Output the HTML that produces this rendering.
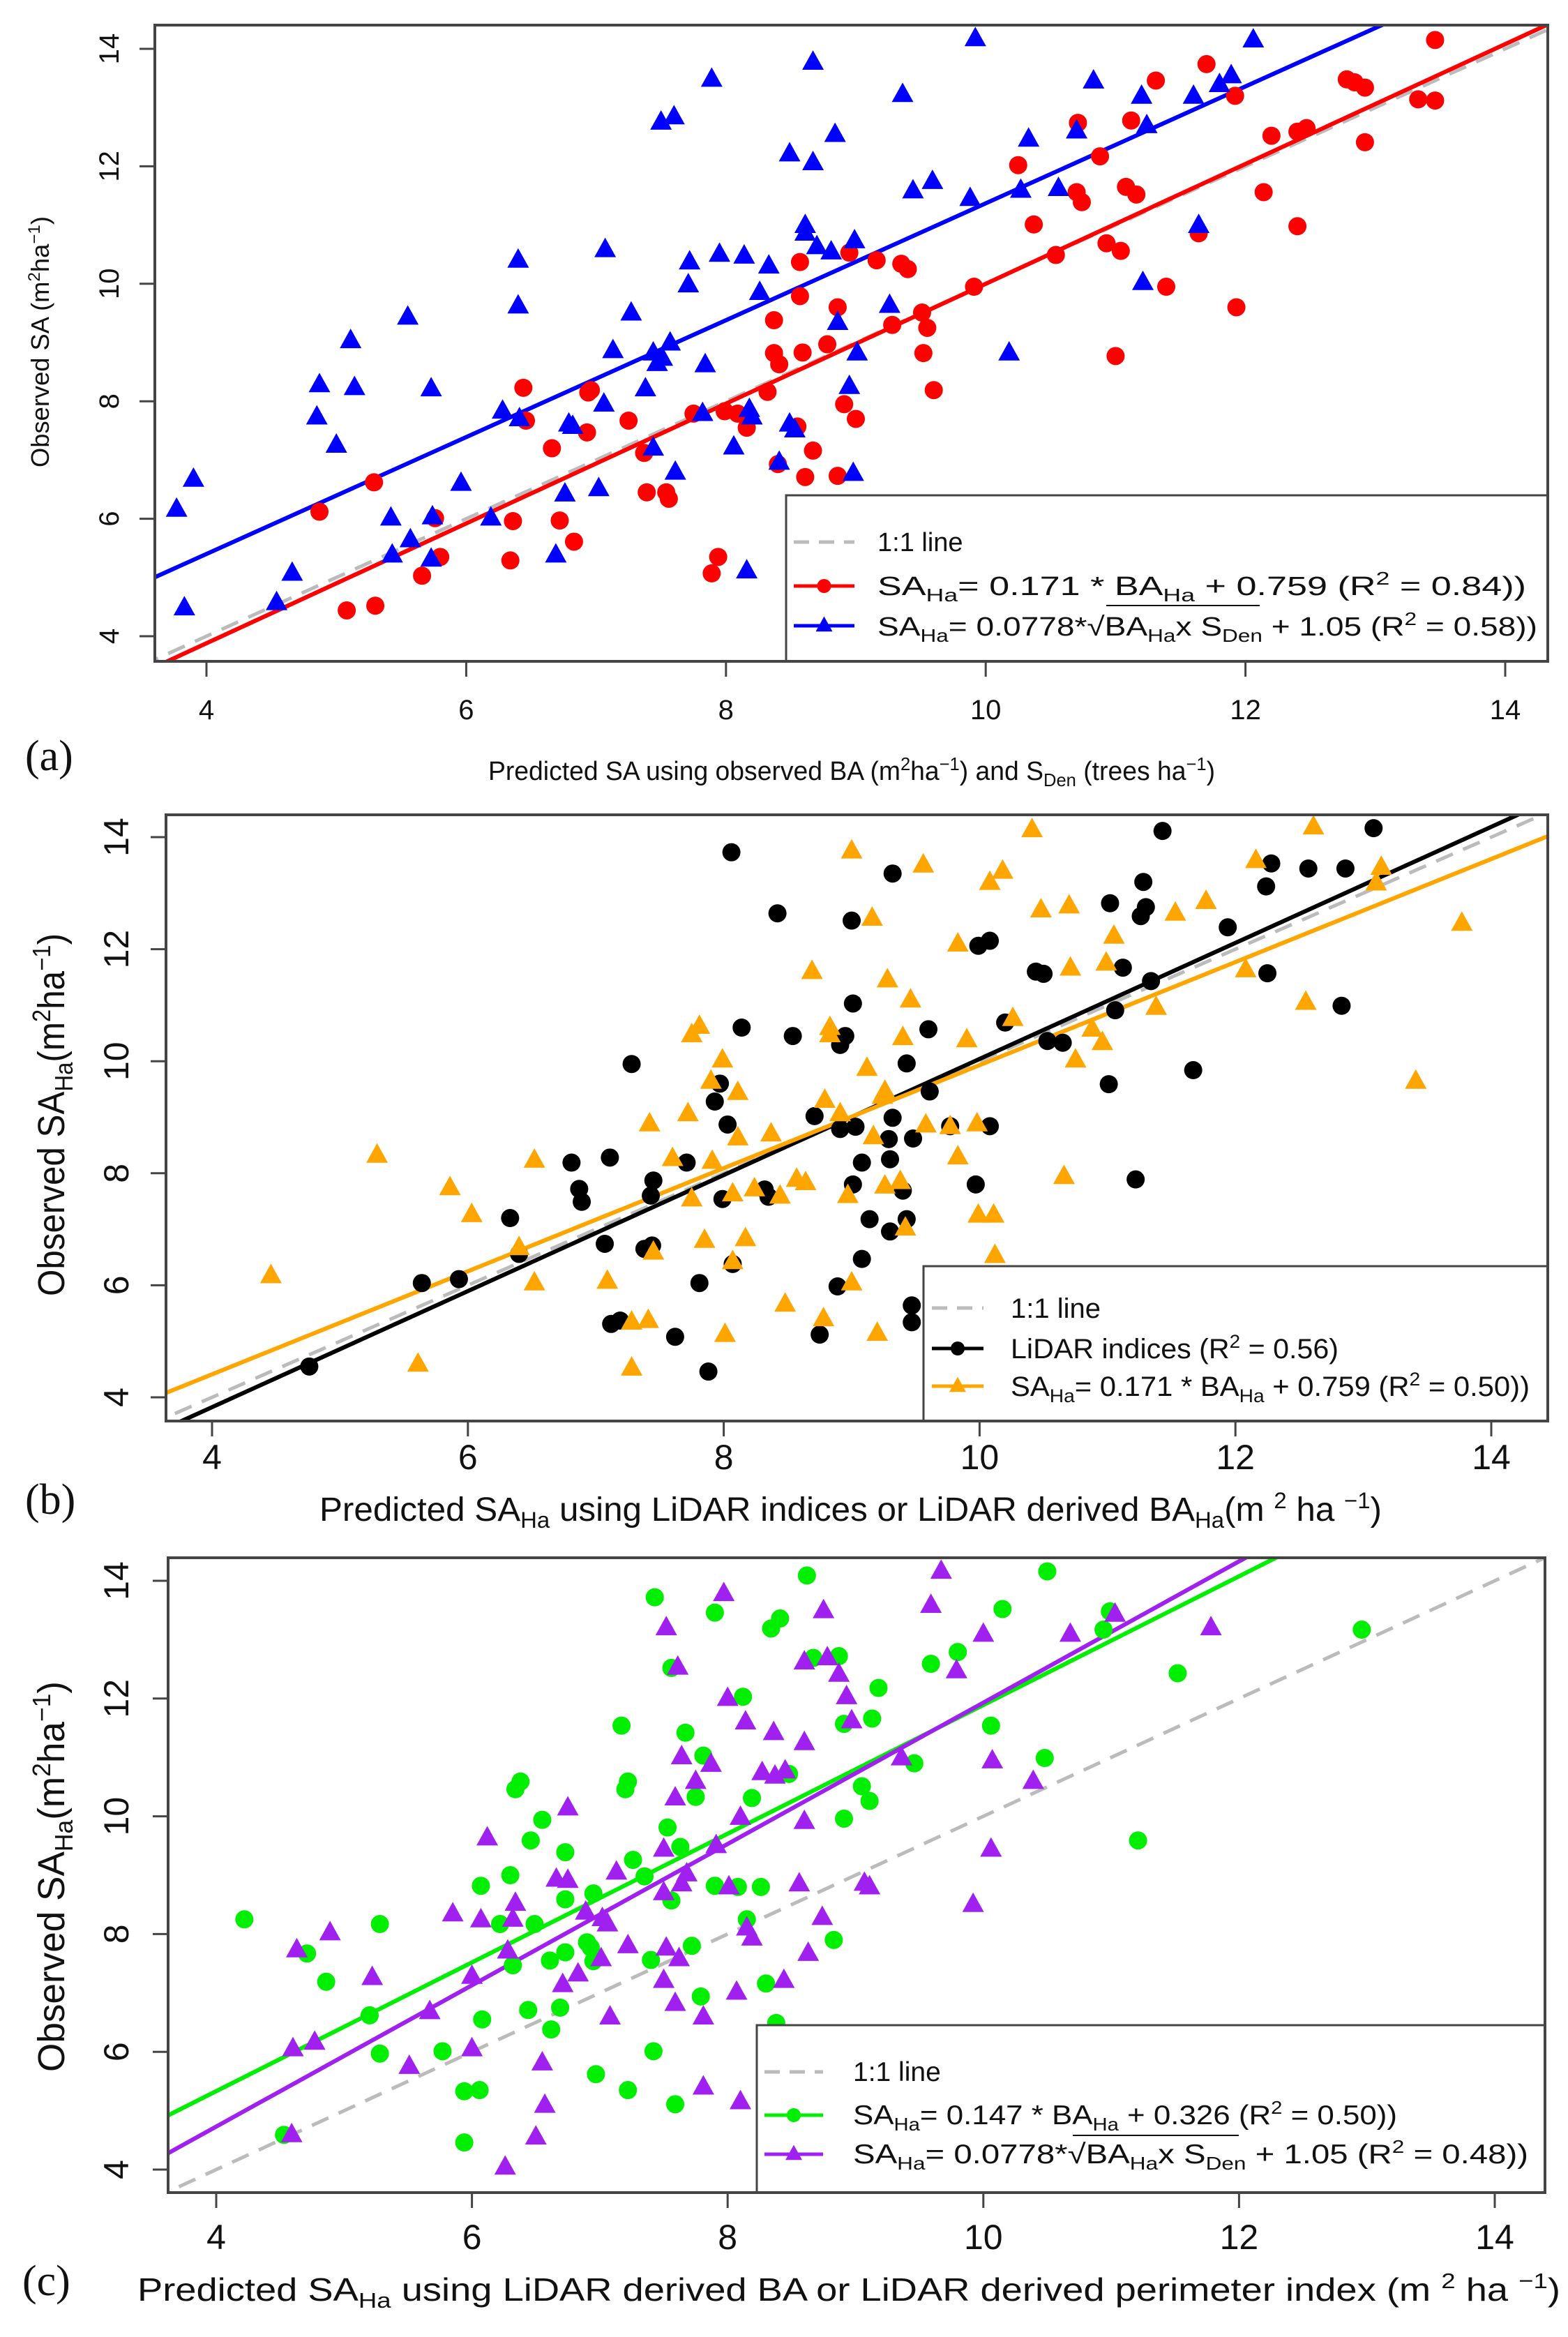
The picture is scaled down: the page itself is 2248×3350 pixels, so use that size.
<!DOCTYPE html>
<html><head><meta charset="utf-8">
<style>
html,body{margin:0;padding:0;background:#fff;}
svg{display:block;}
text{font-family:"Liberation Sans",Arial,sans-serif;fill:#111;}
.serif{font-family:"Liberation Serif","Times New Roman",serif;}
</style></head>
<body>
<svg id="fig" xmlns="http://www.w3.org/2000/svg" width="2248" height="3350" viewBox="0 0 2248 3350">
<defs>
<clipPath id="clipA"><rect x="222" y="36" width="1997" height="912"/></clipPath>
<clipPath id="clipB"><rect x="238" y="1168" width="1981" height="869"/></clipPath>
<clipPath id="clipC"><rect x="241" y="2233" width="1974" height="910"/></clipPath>
</defs>
</svg>
<script>
// ---------- DATA ----------
const ticks = [4, 6, 8, 10, 12, 14];
const tickLabels = ["4", "6", "8", "10", "12", "14"];

// Panel (a)
const aRedX = [13.46,11.70,11.31,12.84,12.78,12.92,11.92,13.33,13.46,10.71,11.12,12.2,12.4,12.47,12.92,10.25,10.88,10.7,10.74,11.08,11.16,12.14,10.37,12.4,10.93,11.04,10.54,11.39,11.64,11.93,9.91,11.0,8.57,8.95,9.16,9.35,9.4,8.57,8.86,8.37,9.51,9.55,9.28,8.37,8.41,8.59,8.78,9.52,9.6,8.32,6.44,6.46,6.94,6.96,7.25,6.93,6.66,7.37,7.75,7.99,8.09,8.16,8.55,8.91,9.0,8.67,7.39,7.54,7.56,8.61,8.86,8.4,5.29,4.87,6.36,6.72,6.83,5.76,5.8,5.66,6.34,5.08,5.3,7.89,7.94];
const aRedY = [14.15,13.74,13.46,13.43,13.48,13.34,13.2,13.14,13.12,12.74,12.78,12.52,12.59,12.65,12.41,12.02,12.17,11.56,11.39,11.65,11.52,11.56,11.01,10.98,10.69,10.56,10.49,9.95,10.86,9.6,9.95,8.77,10.37,10.53,10.4,10.34,10.25,9.79,9.6,9.38,9.51,9.25,9.3,8.82,8.63,8.83,8.97,8.82,8.19,8.16,8.23,7.67,8.15,8.19,7.67,7.47,7.2,7.12,7.79,7.83,7.79,7.55,7.57,7.95,7.7,7.16,6.45,6.45,6.34,6.71,6.73,6.93,6.62,6.12,5.96,5.97,5.61,6.01,5.35,5.03,5.29,4.44,4.52,5.07,5.35];
const aBlueX = [9.92,12.06,8.67,7.89,10.83,9.36,11.2,11.6,11.8,11.89,10.7,11.24,7.5,7.6,10.33,8.84,8.49,8.67,9.44,9.59,10.27,10.56,9.88,8.61,8.61,11.64,11.21,7.07,6.4,6.4,7.95,8.14,7.72,7.71,8.33,8.7,8.81,8.99,8.26,9.26,7.27,8.86,9.01,5.55,5.11,5.14,4.87,4.85,5.0,5.73,7.13,7.44,7.47,7.51,7.57,7.38,7.84,8.95,8.18,8.2,7.82,7.06,6.79,6.82,6.28,6.41,7.44,8.06,8.49,8.53,8.41,8.98,7.61,6.76,7.02,5.96,5.42,5.74,6.19,5.57,5.43,5.73,6.69,3.77,3.9,3.83,4.66,4.54,8.16,10.18];
const aBlueY = [14.17,14.15,13.77,13.48,13.45,13.22,13.19,13.19,13.39,13.54,12.6,12.69,12.75,12.84,12.46,12.54,12.21,12.06,11.58,11.74,11.59,11.62,11.45,10.99,10.86,10.99,10.02,10.58,10.4,9.62,10.5,10.47,10.37,9.98,10.3,10.63,10.54,10.73,9.85,9.63,9.5,9.34,8.82,9.43,9.03,8.23,8.28,7.73,7.25,8.21,8.86,8.82,8.64,8.73,8.99,8.21,8.62,8.25,7.86,7.73,7.79,7.95,7.61,7.57,7.83,7.7,7.2,7.22,7.61,7.51,6.96,6.77,6.79,6.42,6.51,6.6,6.01,6.03,6.01,5.64,5.38,5.31,5.38,6.16,6.67,4.48,5.07,4.57,5.11,8.82];
const aFitRed = [1.02, -0.2];   // slope, intercept (plot space)
const aFitBlue = [0.995, 1.42];

// Panel (b)
const bBlackX = [13.08,11.43,8.06,9.32,12.28,12.57,12.86,11.28,12.24,11.02,11.3,11.26,8.42,9.0,11.94,10.08,9.99,10.44,10.5,12.25,11.12,11.34,12.83,9.01,11.06,10.2,8.14,9.6,8.54,8.95,8.91,10.53,10.65,7.28,9.43,11.67,11.01,7.97,7.93,9.61,8.03,8.71,8.91,9.03,9.32,9.29,9.48,10.08,9.77,9.08,9.3,9.01,9.4,9.97,11.22,6.81,7.11,6.87,6.89,7.45,7.43,7.71,7.99,8.32,8.35,6.33,6.4,7.07,7.38,7.44,9.14,9.43,9.3,9.08,8.07,7.81,8.89,7.12,7.19,7.62,8.75,9.47,9.47,7.88,5.64,5.93,4.76];
const bBlackY = [14.16,14.11,13.73,13.35,13.53,13.44,13.44,13.2,13.12,12.82,12.75,12.59,12.64,12.51,12.39,12.15,12.06,11.6,11.56,11.57,11.67,11.43,10.99,11.03,10.91,10.69,10.6,10.57,10.45,10.45,10.29,10.36,10.33,9.95,9.96,9.84,9.59,9.6,9.28,9.46,8.87,9.02,8.79,8.83,8.99,8.61,8.62,8.84,8.84,8.19,8.25,7.8,7.69,7.8,7.89,8.19,8.28,7.72,7.49,7.87,7.6,8.19,7.54,7.71,7.58,7.2,6.56,6.74,6.65,6.71,7.18,7.18,6.96,6.47,6.38,6.04,5.98,5.31,5.37,5.08,5.12,5.64,5.34,4.46,6.04,6.11,4.55];
const bOrangeX = [10.41,12.61,9.0,9.56,10.18,10.08,12.16,13.14,13.1,10.48,10.7,11.53,11.77,13.77,9.16,9.83,11.05,10.71,10.99,12.08,8.69,9.28,9.46,12.55,11.38,10.26,10.88,10.96,7.81,7.75,8.83,8.83,9.4,9.9,10.75,13.41,7.99,7.9,9.12,8.11,9.26,9.24,7.42,7.72,8.79,8.91,8.11,8.37,9.17,9.58,9.77,9.98,6.52,7.6,7.91,9.83,10.66,8.57,8.64,8.24,8.07,9.26,9.38,8.97,7.75,8.44,5.29,5.86,6.03,6.4,6.52,7.09,7.45,7.85,8.17,8.07,9.42,9.99,10.11,10.12,9.0,8.48,7.28,7.41,8.01,8.78,9.2,7.28,5.61,4.46];
const bOrangeY = [14.13,14.18,13.75,13.5,13.39,13.19,13.58,13.46,13.18,12.7,12.77,12.64,12.85,12.46,12.55,12.09,12.23,11.66,11.75,11.63,11.6,11.45,11.09,11.05,10.96,10.76,10.57,10.33,10.62,10.47,10.6,10.47,10.42,10.38,10.02,9.64,10.02,9.64,9.87,9.44,9.46,9.37,8.88,9.06,9.3,9.06,8.63,8.7,8.65,8.86,8.83,8.88,8.23,8.26,8.21,8.29,7.94,7.89,7.83,7.72,7.63,7.77,7.85,7.6,7.54,7.59,8.32,7.74,7.26,6.67,6.04,6.07,6.59,6.8,6.83,6.42,7.02,7.25,7.25,6.53,6.04,5.66,5.34,5.37,5.12,5.4,5.14,4.52,4.59,6.17];
const bFitBlack = [1.036, -0.32];
const bFitOrange = [0.92, 0.73];

// Panel (c)
const cGreenX = [10.5,8.62,7.43,7.9,8.34,8.41,10.15,10.99,10.94,12.96,7.56,8.67,8.87,9.59,9.8,11.52,8.12,9.18,7.17,8.91,9.13,10.06,7.67,7.81,9.46,10.48,7.22,7.2,6.38,6.34,8.48,7.75,8.19,9.05,9.11,6.55,8.91,11.21,6.46,6.73,7.53,7.63,7.26,7.35,6.3,6.07,6.73,6.95,7.56,7.9,8.08,8.26,8.15,4.22,5.28,6.22,6.49,4.71,4.86,6.32,6.73,6.61,6.9,6.93,6.95,7.72,7.4,8.83,8.3,7.79,6.69,6.44,5.2,6.08,6.62,8.38,5.28,5.77,7.42,6.97,7.22,5.94,6.06,7.59,5.94,4.53];
const cGreenY = [14.16,14.09,13.72,13.46,13.19,13.36,13.52,13.48,13.17,13.17,12.52,12.69,12.72,12.59,12.79,12.43,12.03,12.18,11.54,11.57,11.66,11.54,11.42,11.03,10.9,10.99,10.59,10.46,10.59,10.46,10.72,10.33,10.31,10.51,10.26,9.94,9.96,9.59,9.59,9.39,9.81,9.48,9.26,8.98,9.0,8.82,8.59,8.69,8.57,8.82,8.8,8.8,8.25,8.25,8.17,8.17,8.17,7.67,7.19,7.47,7.69,7.55,7.86,7.77,7.54,7.8,7.56,7.9,7.16,6.94,6.75,6.71,6.62,6.55,6.38,6.49,5.97,6.01,6.01,5.62,5.35,5.33,5.35,5.11,4.46,4.59];
const cPurpleX = [9.67,7.97,9.59,8.75,7.52,11.03,10.0,10.68,11.78,7.61,8.6,8.78,8.87,9.79,8.0,8.93,8.97,8.14,8.36,8.6,7.64,7.87,9.36,10.07,10.39,8.27,8.37,8.45,7.75,7.59,6.75,8.1,8.6,6.12,10.06,7.91,7.5,7.13,6.66,6.75,7.68,7.64,7.5,8.01,8.56,9.07,9.11,9.92,5.85,6.07,6.34,6.32,6.89,7.02,7.06,8.15,8.19,8.74,4.89,4.63,6.28,7.01,7.22,7.52,7.62,8.63,5.22,6.83,6.71,7.5,6.0,8.07,8.44,7.59,7.81,7.08,5.67,4.77,4.6,6.0,5.51,6.55,6.57,7.81,8.1,6.5,4.59,6.26];
const cPurpleY = [14.16,13.78,13.58,13.49,13.2,13.43,13.09,13.09,13.2,12.53,12.62,12.69,12.41,12.47,12.0,12.03,11.62,11.6,11.42,11.25,11.01,10.88,10.99,10.94,10.59,10.74,10.68,10.77,10.59,10.31,10.14,9.98,9.91,9.63,9.44,9.5,9.44,9.05,8.93,8.91,9.02,8.85,8.7,8.8,8.85,8.86,8.8,8.5,8.34,8.24,8.52,8.25,8.37,8.26,8.17,8.1,7.93,8.28,8.02,7.73,7.71,7.58,7.8,7.76,7.58,7.67,7.26,7.32,7.14,7.21,7.28,7.01,7.21,6.82,6.59,6.59,6.68,6.16,6.05,6.05,5.75,5.81,5.09,5.4,5.15,4.55,4.59,4.04];
const cFitGreen = [1.093, 0.96];
const cFitPurple = [1.2, -0.07];

// ---------- GEOMETRY ----------
const NS = "http://www.w3.org/2000/svg";
const svg = document.getElementById("fig");
function mk(tag, attrs, parent) {
  const e = document.createElementNS(NS, tag);
  for (const k in attrs) e.setAttribute(k, attrs[k]);
  (parent || svg).appendChild(e);
  return e;
}
const panels = {
  a: {L:222,R:2219,T:36,B:948, x4:296, xu:186.2, y4:912, yu:84.2, clip:"clipA", tickFont:40, tickLabelY:1031, ylabX:170, r:13},
  b: {L:238,R:2219,T:1168,B:2037, x4:304, xu:183.4, y4:2003, yu:80.3, clip:"clipB", tickFont:50, tickLabelY:2106, ylabX:184, r:13},
  c: {L:241,R:2215,T:2233,B:3143, x4:310, xu:183.3, y4:3110, yu:84.4, clip:"clipC", tickFont:50, tickLabelY:3224, ylabX:184, r:13}
};
function sx(p, v) { return p.x4 + (v - 4) * p.xu; }
function sy(p, v) { return p.y4 - (v - 4) * p.yu; }

function drawAxes(p, key) {
  const g = mk("g", {});
  
  
  ticks.forEach((t, i) => {
    const X = sx(p, t), Y = sy(p, t);
    const tx = mk("line", {x1:X, x2:X, y1:p.B, y2:p.B+22, stroke:"#444", "stroke-width":3}, g);
    
    
    const ty = mk("line", {x1:p.L-22, x2:p.L, y1:Y, y2:Y, stroke:"#444", "stroke-width":3}, g);
    
    
    const lx = mk("text", {x:X, y:p.tickLabelY, "text-anchor":"middle", "font-size":p.tickFont}, g);
    lx.textContent = tickLabels[i];
    
    
    const ly = mk("text", {x:p.ylabX, y:Y, "text-anchor":"middle", "font-size":p.tickFont, transform:"rotate(-90 " + p.ylabX + " " + Y + ")"}, g);
    ly.textContent = tickLabels[i];
    
    
  });
}
function drawBox(p, key) {
  const r = mk("rect", {x:p.L, y:p.T, width:p.R-p.L, height:p.B-p.T, fill:"none", stroke:"#444", "stroke-width":4});
  
  
}
function fitLine(p, fit, color, name, dash) {
  const x0 = 3.5, x1 = 14.5;
  const attrs = {x1:sx(p,x0), y1:sy(p, fit[0]*x0+fit[1]), x2:sx(p,x1), y2:sy(p, fit[0]*x1+fit[1]), stroke:color, "stroke-width":dash?5:6, "clip-path":"url(#"+p.clip+")"};
  if (dash) attrs["stroke-dasharray"] = "26 16";
  const l = mk("line", attrs);
  
  
}
function circles(p, xs, ys, color, name) {
  const g = mk("g", {fill:color});
  
  
  xs.forEach((v, i) => {
    const c = mk("circle", {cx:sx(p,v), cy:sy(p,ys[i]), r:p.r}, g);
    
    
  });
}
function tri(cx, cy, s) {
  const h = s * 0.9;
  return (cx) + "," + (cy - h*0.62) + " " + (cx - s/2) + "," + (cy + h*0.38) + " " + (cx + s/2) + "," + (cy + h*0.38);
}
function triangles(p, xs, ys, color, name) {
  const g = mk("g", {fill:color});
  
  
  xs.forEach((v, i) => {
    const t = mk("polygon", {points:tri(sx(p,v), sy(p,ys[i]), 31)}, g);
    
    
  });
}

// ---------- PANEL A ----------
const A = panels.a;
fitLine(A, [1,0], "#bbbbbb", "one-to-one-line-a", true);
fitLine(A, aFitRed, "#ff0000", "fit-line-red-a", false);
fitLine(A, aFitBlue, "#0000ff", "fit-line-blue-a", false);
circles(A, aRedX, aRedY, "#ff0000", "series-ba-model-a");
triangles(A, aBlueX, aBlueY, "#0000ff", "series-sqrt-model-a");

// ---------- PANEL B ----------
const B = panels.b;
fitLine(B, [1,0], "#bbbbbb", "one-to-one-line-b", true);
fitLine(B, bFitBlack, "#000000", "fit-line-black-b", false);
fitLine(B, bFitOrange, "#ffa500", "fit-line-orange-b", false);
circles(B, bBlackX, bBlackY, "#000000", "series-lidar-indices-b");
triangles(B, bOrangeX, bOrangeY, "#ffa500", "series-ba-model-b");

// ---------- PANEL C ----------
const C = panels.c;
fitLine(C, [1,0], "#bbbbbb", "one-to-one-line-c", true);
fitLine(C, cFitGreen, "#00ee00", "fit-line-green-c", false);
fitLine(C, cFitPurple, "#a020f0", "fit-line-purple-c", false);
circles(C, cGreenX, cGreenY, "#00ee00", "series-ba-model-c");
triangles(C, cPurpleX, cPurpleY, "#a020f0", "series-sqrt-model-c");

// legends (drawn before frame so frame is on top)
function legendBox(x, y, w, h, name) {
  const r = mk("rect", {x:x, y:y, width:w, height:h, fill:"#fff", stroke:"#444", "stroke-width":3});
  
  
}
function legendSample(x1, x2, y, color, kind, name) {
  const g = mk("g", {});
  
  
  if (kind === "dash") {
    mk("line", {x1:x1, x2:x2, y1:y, y2:y, stroke:"#bbbbbb", "stroke-width":5, "stroke-dasharray":"22 14"}, g);
  } else {
    mk("line", {x1:x1, x2:x2, y1:y, y2:y, stroke:color, "stroke-width":5}, g);
    const cx = (x1 + x2) / 2;
    if (kind === "circle") mk("circle", {cx:cx, cy:y, r:10, fill:color}, g);
    else mk("polygon", {points:tri(cx, y, 24), fill:color}, g);
  }
}
function drawAll() {
  // Panel A legend
  legendBox(1127, 710, 1092, 238, "legend-a");
  legendSample(1138, 1225, 777, "", "dash", "legend-a-sample-1to1");
  legendSample(1138, 1225, 840, "#ff0000", "circle", "legend-a-sample-red");
  legendSample(1138, 1225, 897, "#0000ff", "tri", "legend-a-sample-blue");
  drawBox(A, "a");
  drawAxes(A, "a");
  // Panel B legend
  legendBox(1324, 1815, 895, 222, "legend-b");
  legendSample(1336, 1410, 1875, "", "dash", "legend-b-sample-1to1");
  legendSample(1336, 1410, 1933, "#000000", "circle", "legend-b-sample-black");
  legendSample(1336, 1410, 1987, "#ffa500", "tri", "legend-b-sample-orange");
  drawBox(B, "b");
  drawAxes(B, "b");
  // Panel C legend
  legendBox(1085, 2903, 1130, 240, "legend-c");
  legendSample(1096, 1180, 2970, "", "dash", "legend-c-sample-1to1");
  legendSample(1096, 1180, 3032, "#00ee00", "circle", "legend-c-sample-green");
  legendSample(1096, 1180, 3088, "#a020f0", "tri", "legend-c-sample-purple");
  drawBox(C, "c");
  drawAxes(C, "c");
}
drawAll();
</script>
<svg xmlns="http://www.w3.org/2000/svg" width="2248" height="3350" viewBox="0 0 2248 3350" style="position:absolute;left:0;top:0;">
<style>text{font-family:"Liberation Sans",Arial,sans-serif;fill:#111;}</style>
<!-- Panel A text -->
<text x="1258" y="790" font-size="38">1:1 line</text>
<text x="1258" y="853" font-size="38" textLength="930" lengthAdjust="spacingAndGlyphs">SA<tspan font-size="26" dy="9">Ha</tspan><tspan dy="-9">= 0.171 * BA</tspan><tspan font-size="26" dy="9">Ha</tspan><tspan dy="-9"> + 0.759  (R</tspan><tspan font-size="26" dy="-15">2</tspan><tspan dy="15"> = 0.84))</tspan></text>
<text x="1258" y="911" font-size="38" textLength="946" lengthAdjust="spacingAndGlyphs">SA<tspan font-size="26" dy="9">Ha</tspan><tspan dy="-9">= 0.0778*√BA</tspan><tspan font-size="26" dy="9">Ha</tspan><tspan dy="-9">x S</tspan><tspan font-size="26" dy="9">Den</tspan><tspan dy="-9"> + 1.05  (R</tspan><tspan font-size="26" dy="-15">2</tspan><tspan dy="15"> = 0.58))</tspan></text>
<line x1="1586" x2="1806" y1="868" y2="868" stroke="#111" stroke-width="2"/>
<text x="700" y="1118" font-size="38" textLength="1042" lengthAdjust="spacingAndGlyphs">Predicted SA using observed BA (m<tspan font-size="26" dy="-14">2</tspan><tspan dy="14">ha</tspan><tspan font-size="26" dy="-14">−1</tspan><tspan dy="14">) and S</tspan><tspan font-size="26" dy="9">Den</tspan><tspan dy="-9"> (trees ha</tspan><tspan font-size="26" dy="-14">−1</tspan><tspan dy="14">)</tspan></text>
<text x="70" y="490" font-size="36" text-anchor="middle" transform="rotate(-90 70 490)" textLength="360" lengthAdjust="spacingAndGlyphs">Observed SA (m<tspan font-size="24" dy="-13">2</tspan><tspan dy="13">ha</tspan><tspan font-size="24" dy="-13">−1</tspan><tspan dy="13">)</tspan></text>
<text class="serif" x="36" y="1104" font-size="62" style="font-family:'Liberation Serif',serif">(a)</text>
<!-- Panel B text -->
<text x="1449" y="1889" font-size="40">1:1 line</text>
<text x="1449" y="1947" font-size="40" textLength="470" lengthAdjust="spacingAndGlyphs">LiDAR indices (R<tspan font-size="27" dy="-15">2</tspan><tspan dy="15"> = 0.56)</tspan></text>
<text x="1449" y="2001" font-size="40" textLength="744" lengthAdjust="spacingAndGlyphs">SA<tspan font-size="27" dy="9">Ha</tspan><tspan dy="-9">= 0.171 * BA</tspan><tspan font-size="27" dy="9">Ha</tspan><tspan dy="-9"> + 0.759  (R</tspan><tspan font-size="27" dy="-15">2</tspan><tspan dy="15"> = 0.50))</tspan></text>
<text x="458" y="2180" font-size="48" textLength="1523" lengthAdjust="spacingAndGlyphs">Predicted SA<tspan font-size="32" dy="10">Ha</tspan><tspan dy="-10"> using LiDAR indices or LiDAR derived BA</tspan><tspan font-size="32" dy="10">Ha</tspan><tspan dy="-10">(m </tspan><tspan font-size="32" dy="-18">2</tspan><tspan dy="18"> ha </tspan><tspan font-size="32" dy="-18">−1</tspan><tspan dy="18">)</tspan></text>
<text x="92" y="1598" font-size="54" text-anchor="middle" transform="rotate(-90 92 1598)" textLength="520" lengthAdjust="spacingAndGlyphs">Observed SA<tspan font-size="36" dy="12">Ha</tspan><tspan dy="-12">(m</tspan><tspan font-size="36" dy="-20">2</tspan><tspan dy="20">ha</tspan><tspan font-size="36" dy="-20">−1</tspan><tspan dy="20">)</tspan></text>
<text x="36" y="2170" font-size="62" style="font-family:'Liberation Serif',serif">(b)</text>
<!-- Panel C text -->
<text x="1223" y="2983" font-size="39">1:1 line</text>
<text x="1223" y="3045" font-size="39" textLength="780" lengthAdjust="spacingAndGlyphs">SA<tspan font-size="26" dy="9">Ha</tspan><tspan dy="-9">= 0.147 * BA</tspan><tspan font-size="26" dy="9">Ha</tspan><tspan dy="-9"> + 0.326  (R</tspan><tspan font-size="26" dy="-15">2</tspan><tspan dy="15"> = 0.50))</tspan></text>
<text x="1223" y="3101" font-size="39" textLength="968" lengthAdjust="spacingAndGlyphs">SA<tspan font-size="26" dy="9">Ha</tspan><tspan dy="-9">= 0.0778*√BA</tspan><tspan font-size="26" dy="9">Ha</tspan><tspan dy="-9">x S</tspan><tspan font-size="26" dy="9">Den</tspan><tspan dy="-9"> + 1.05   (R</tspan><tspan font-size="26" dy="-15">2</tspan><tspan dy="15"> = 0.48))</tspan></text>
<line x1="1538" x2="1776" y1="3061" y2="3061" stroke="#111" stroke-width="2"/>
<text x="197" y="3298" font-size="46" textLength="2040" lengthAdjust="spacingAndGlyphs">Predicted SA<tspan font-size="31" dy="10">Ha</tspan><tspan dy="-10"> using LiDAR derived BA or LiDAR derived perimeter index (m </tspan><tspan font-size="31" dy="-18">2</tspan><tspan dy="18"> ha </tspan><tspan font-size="31" dy="-18">−1</tspan><tspan dy="18">)</tspan></text>
<text x="92" y="2690" font-size="54" text-anchor="middle" transform="rotate(-90 92 2690)" textLength="560" lengthAdjust="spacingAndGlyphs">Observed SA<tspan font-size="36" dy="12">Ha</tspan><tspan dy="-12">(m</tspan><tspan font-size="36" dy="-20">2</tspan><tspan dy="20">ha</tspan><tspan font-size="36" dy="-20">−1</tspan><tspan dy="20">)</tspan></text>
<text x="32" y="3290" font-size="62" style="font-family:'Liberation Serif',serif">(c)</text>
</svg>
</body></html>
